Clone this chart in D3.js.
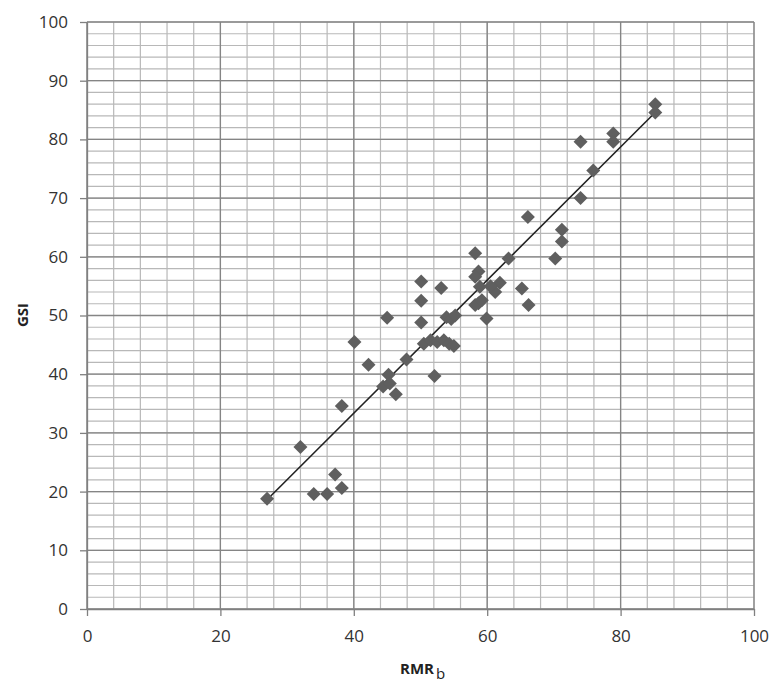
<!DOCTYPE html>
<html><head><meta charset="utf-8">
<script src="https://cdn.jsdelivr.net/npm/d3@7"></script>
<style>body{margin:0;background:#fff}</style>
</head><body><svg id="c" width="784" height="685"></svg>
<script>
const rmr = [27,32,34,36,37.2,38.2,38.2,40.1,42.2,44.4,45.2,45.4,46.3,47.9,45.0,50.1,50.1,50.1,50.5,51.5,52.5,53.5,54.3,55.0,52.1,53.1,53.9,54.6,55.2,58.2,58.7,58.2,58.9,58.7,58.2,59.2,59.9,61.9,61.2,60.5,63.2,65.2,66.2,66.1,70.2,71.2,71.2,74.0,74.0,75.9,78.9,78.9,85.2,85.2];
const gsi = [18.8,27.6,19.6,19.6,22.9,20.6,34.6,45.5,41.6,37.9,39.9,38.4,36.6,42.5,49.6,55.8,52.5,48.8,45.2,45.8,45.5,45.8,45.2,44.8,39.7,54.7,49.7,49.4,50.0,60.6,57.5,56.6,54.9,52.1,51.8,52.6,49.5,55.6,54.0,55.0,59.7,54.6,51.8,66.8,59.7,64.6,62.6,79.6,70.0,74.7,81.0,79.6,86.0,84.6];
const xTicks = [0,20,40,60,80,100];
const yTicks = [0,10,20,30,40,50,60,70,80,90,100];
const trendSlope = 1.134, trendIntercept = -12.0, trendFrom = 27.1, trendTo = 84.8;

const svg = d3.select("#c");
const L = 87, R = 754, T = 22, B = 609;
const x = d3.scaleLinear().domain([0,100]).range([L,R]);
const y = d3.scaleLinear().domain([0,100]).range([B,T]);

const g = svg.append("g");
g.selectAll(".vx").data(d3.range(0,101,4)).enter().append("line")
  .attr("x1",d=>x(d)).attr("x2",d=>x(d)).attr("y1",T).attr("y2",B)
  .attr("stroke","#b8b8b8").attr("stroke-width",1.2);
g.selectAll(".hy").data(d3.range(0,101,2)).enter().append("line")
  .attr("x1",L).attr("x2",R).attr("y1",d=>y(d)).attr("y2",d=>y(d))
  .attr("stroke","#b8b8b8").attr("stroke-width",1.2);
g.selectAll(".vX").data(xTicks).enter().append("line")
  .attr("x1",d=>x(d)).attr("x2",d=>x(d)).attr("y1",T).attr("y2",B)
  .attr("stroke","#858585").attr("stroke-width",1.3);
g.selectAll(".hY").data(yTicks).enter().append("line")
  .attr("x1",L).attr("x2",R).attr("y1",d=>y(d)).attr("y2",d=>y(d))
  .attr("stroke","#858585").attr("stroke-width",1.3);

const xa = svg.append("g").attr("transform",`translate(0,${B})`)
  .call(d3.axisBottom(x).tickValues(xTicks).tickSize(7).tickPadding(14).tickSizeOuter(0));
const ya = svg.append("g").attr("transform",`translate(${L},0)`)
  .call(d3.axisLeft(y).tickValues(yTicks).tickSize(7).tickPadding(12).tickSizeOuter(0));
[xa,ya].forEach(a=>{
  a.selectAll("path,line").attr("stroke","#808080").attr("stroke-width",1.3);
  a.selectAll("text").attr("fill","#333").style("font-family","'Open Sans', sans-serif").style("font-size","17px");
});

svg.append("line")
  .attr("x1",x(trendFrom)).attr("y1",y(trendSlope*trendFrom+trendIntercept))
  .attr("x2",x(trendTo)).attr("y2",y(trendSlope*trendTo+trendIntercept))
  .attr("stroke","#222").attr("stroke-width",1.6);

const sym = d3.symbol().type(d3.symbolSquare).size(98);
svg.selectAll(".pt").data(rmr.map((v,i)=>[v,gsi[i]])).enter().append("path")
  .attr("d",sym).attr("transform",d=>`translate(${x(d[0])},${y(d[1])}) rotate(45)`)
  .attr("fill","#5f5f5f");

svg.append("text").attr("transform","translate(28,315) rotate(-90)")
  .attr("text-anchor","middle").attr("fill","#222")
  .style("font-family","'Open Sans', sans-serif").style("font-size","15px").style("font-weight","bold")
  .text("GSI");
const xl = svg.append("text").attr("x",400).attr("y",674).attr("fill","#222")
  .style("font-family","'Open Sans', sans-serif").style("font-size","15px").style("font-weight","bold");
xl.append("tspan").text("RMR");
xl.append("tspan").attr("dy",5).attr("dx",2).style("font-weight","normal").style("font-size","15px").text("b");
</script></body></html>
